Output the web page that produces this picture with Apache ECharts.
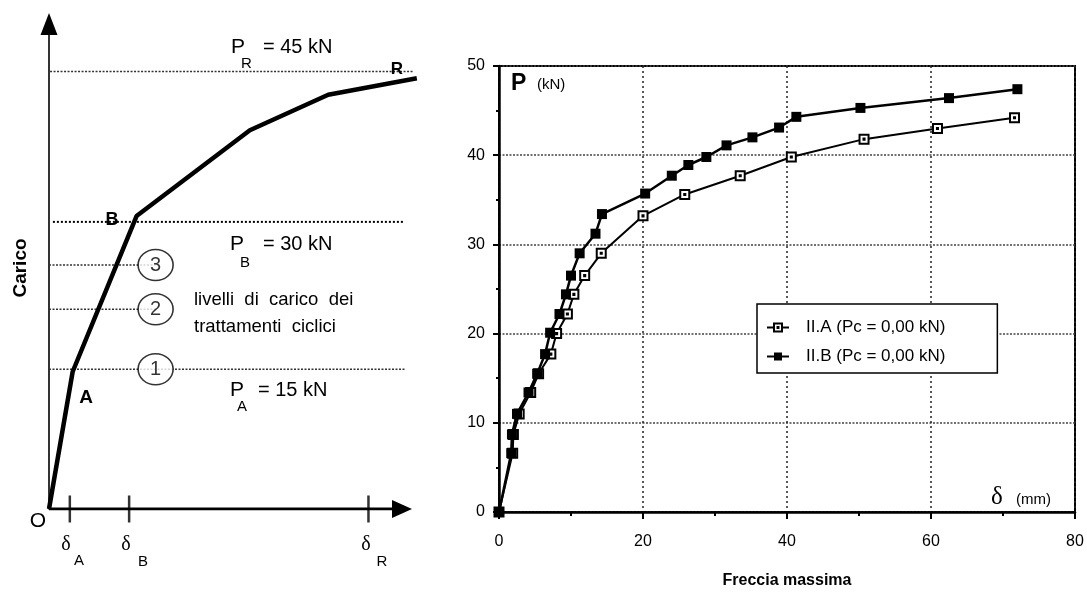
<!DOCTYPE html>
<html><head><meta charset="utf-8">
<script src="https://cdn.jsdelivr.net/npm/echarts@6/dist/echarts.min.js"></script>
<style>html,body{margin:0;padding:0;background:#fff}#c{width:1087px;height:601px}</style>
</head><body><div id="c"></div>
<script>
// ---------- Right chart: measured data ----------
const seriesAName = 'II.A (Pc = 0,00 kN)';
const seriesBName = 'II.B (Pc = 0,00 kN)';
const deltaA = [0, 1.9, 2.0, 2.8, 4.4, 5.5, 7.2, 8.0, 9.5, 10.4, 11.9, 14.2, 20.0, 25.8, 33.5, 40.6, 50.7, 60.9, 71.6];
const loadA  = [0, 6.6, 8.7, 11.0, 13.4, 15.5, 17.7, 20.0, 22.2, 24.4, 26.5, 29.0, 33.2, 35.6, 37.7, 39.8, 41.8, 43.0, 44.2];
const deltaB = [0, 1.7, 1.8, 2.5, 4.1, 5.3, 6.4, 7.1, 8.4, 9.3, 10.0, 11.2, 13.4, 14.3, 20.3, 24.0, 26.3, 28.8, 31.6, 35.2, 38.9, 41.3, 50.2, 62.5, 72.0];
const loadB  = [0, 6.6, 8.7, 11.0, 13.4, 15.5, 17.7, 20.1, 22.2, 24.4, 26.5, 29.0, 31.2, 33.4, 35.7, 37.7, 38.9, 39.8, 41.1, 42.0, 43.1, 44.3, 45.3, 46.4, 47.4];
const xTickLabels = ['0', '20', '40', '60', '80'];
const yTickLabels = ['0', '10', '20', '30', '40', '50'];

// ---------- Left schematic (schematic drawing units) ----------
const schemDelta = [0, 6.7, 24.8, 56.9, 79.1, 104.2];
const schemLoad  = [0, 28.3, 60.4, 78.1, 85.4, 88.8];
const levelNames = ['1', '2', '3'];
const levelLoad  = [28.8, 41.2, 50.3];
const levelMarkerDelta = 30.2;
const levelLineEnd = [100.8, 30.2, 30.2];
const deltaTicks = [5.9, 22.7, 90.5];
const deltaAxisEnd = 100;
const loadPB = 59.2, loadPR = 90.2;
const lineP_B = [[1.1, loadPB], [100.8, loadPB]];
const lineP_R = [[0.3, loadPR], [103.1, loadPR]];

const SANS = '"Liberation Sans", Arial, Helvetica, sans-serif';
const SERIF = '"Liberation Serif", "DejaVu Serif", serif';

function zip(a, b) { return a.map((v, i) => [v, b[i]]); }

const openSquare = 'path://M0,0L10,0L10,10L0,10Z M4.4,4.4L5.6,4.4L5.6,5.6L4.4,5.6Z';

function txt(text, x, y, font, opts) {
  opts = opts || {};
  return {
    type: 'text', x: x, y: y, rotation: opts.rotation || 0, z: 100,
    style: {
      text: text, font: font, fill: '#000',
      textAlign: opts.align || 'left', align: opts.align || 'left',
      textVerticalAlign: 'middle', verticalAlign: 'middle'
    }
  };
}

const levelSeries = levelLoad.map((ld, i) => ({
  type: 'line', xAxisIndex: 0, yAxisIndex: 0, symbol: 'none', silent: true, clip: false,
  lineStyle: { color: '#333', width: 1.5, type: [2, 1.5] },
  data: [[0, ld], [levelLineEnd[i], ld]]
}));

const option = {
  backgroundColor: '#fff',
  animation: false,
  textStyle: { fontFamily: SANS },
  grid: [
    { left: 49, top: 24, width: 388.3, height: 485, outerBoundsMode: 'none' },
    { left: 499, right: 12, top: 66, bottom: 89, show: true, borderColor: '#000', borderWidth: 2, outerBoundsMode: 'none' }
  ],
  xAxis: [
    { gridIndex: 0, type: 'value', min: 0, max: 110,
      axisLine: { show: false },
      axisTick: { show: false }, axisLabel: { show: false }, splitLine: { show: false } },
    { gridIndex: 1, type: 'value', min: 0, max: 80, interval: 20,
      axisLine: { show: true, onZero: false, lineStyle: { color: '#000', width: 2.5 } },
      axisTick: { show: true, length: 7, lineStyle: { color: '#000', width: 2 } },
      minorTick: { show: true, splitNumber: 2, length: 4, lineStyle: { color: '#000', width: 2 } },
      axisLabel: { color: '#000', fontSize: 16, fontFamily: SANS, margin: 22,
        formatter: (v) => xTickLabels[xTickLabels.indexOf(String(v))] },
      splitLine: { show: true, lineStyle: { color: '#222', width: 1.5, type: [2, 3] } },
      name: 'Freccia massima', nameLocation: 'middle', nameGap: 61,
      nameTextStyle: { color: '#000', fontSize: 16, fontWeight: 'bold', fontFamily: SANS } }
  ],
  yAxis: [
    { gridIndex: 0, type: 'value', min: 0, max: 100,
      axisLine: { show: true, onZero: false, symbol: ['none', 'triangle'], symbolSize: [17, 22], lineStyle: { color: '#000', width: 1.6 } },
      axisTick: { show: false }, axisLabel: { show: false }, splitLine: { show: false } },
    { gridIndex: 1, type: 'value', min: 0, max: 50, interval: 10,
      axisLine: { show: true, onZero: false, lineStyle: { color: '#000', width: 2.5 } },
      axisTick: { show: true, length: 6, lineStyle: { color: '#000', width: 2 } },
      minorTick: { show: true, splitNumber: 2, length: 3, lineStyle: { color: '#000', width: 2 } },
      axisLabel: { color: '#000', fontSize: 16, fontFamily: SANS, margin: 14,
        formatter: (v) => yTickLabels[yTickLabels.indexOf(String(v))] },
      splitLine: { show: true, lineStyle: { color: '#444', width: 1.5, type: [2, 1.5] } } }
  ],
  legend: {
    data: [seriesAName, seriesBName],
    orient: 'vertical', left: 757, top: 304,
    padding: [15, 52, 8, 9], itemGap: 12,
    itemWidth: 22, itemHeight: 10,
    backgroundColor: '#fff', borderColor: '#000', borderWidth: 1.5, borderRadius: 0,
    textStyle: { color: '#000', fontSize: 17, fontFamily: SANS, padding: [0, 0, 0, 12] },
    selectedMode: false
  },
  series: [
    // left schematic horizontal axis with arrow
    { type: 'line', xAxisIndex: 0, yAxisIndex: 0, silent: true, z: 7,
      lineStyle: { color: '#000', width: 3 }, itemStyle: { color: '#000' },
      symbol: 'none',
      data: [[0, 0], { value: [deltaAxisEnd, 0], symbol: 'triangle', symbolSize: [18, 20], symbolRotate: -90 }] },
    // left schematic curve
    { type: 'line', xAxisIndex: 0, yAxisIndex: 0, symbol: 'none', clip: false, silent: true, z: 5,
      lineStyle: { color: '#000', width: 4.5 }, data: zip(schemDelta, schemLoad) },
    // reference lines
    { type: 'line', xAxisIndex: 0, yAxisIndex: 0, symbol: 'none', clip: false, silent: true,
      lineStyle: { color: '#333', width: 1.5, type: [2, 1.5] }, data: lineP_R },
    { type: 'line', xAxisIndex: 0, yAxisIndex: 0, symbol: 'none', clip: false, silent: true,
      lineStyle: { color: '#000', width: 2, type: [2, 2] }, data: lineP_B },
    ...levelSeries,
    // level circles
    { type: 'scatter', xAxisIndex: 0, yAxisIndex: 0, symbol: 'circle', symbolSize: [35, 31], z: 6, silent: true,
      itemStyle: { color: '#fff', borderColor: '#000', borderWidth: 1.5 },
      label: { show: true, position: 'inside', color: '#000', fontSize: 20, fontFamily: SANS,
        formatter: (p) => levelNames[p.dataIndex] },
      data: levelLoad.map(ld => [levelMarkerDelta, ld]) },
    // delta ticks
    { type: 'scatter', xAxisIndex: 0, yAxisIndex: 0, symbol: 'rect', symbolSize: [2.5, 27], silent: true, z: 8,
      itemStyle: { color: '#000' }, data: deltaTicks.map(d => [d, 0]) },
    // right chart series
    { name: seriesAName, type: 'line', xAxisIndex: 1, yAxisIndex: 1, z: 4,
      symbol: openSquare, symbolSize: 9, showAllSymbol: true,
      lineStyle: { color: '#000', width: 2 },
      itemStyle: { color: '#fff', borderColor: '#000', borderWidth: 2 },
      data: zip(deltaA, loadA) },
    { name: seriesBName, type: 'line', xAxisIndex: 1, yAxisIndex: 1, z: 5,
      symbol: 'rect', symbolSize: 10, showAllSymbol: true,
      lineStyle: { color: '#000', width: 2.5 },
      itemStyle: { color: '#000', borderColor: '#000', borderWidth: 0 },
      data: zip(deltaB, loadB) }
  ],
  graphic: [
    txt('P', 231, 47, '21px ' + SANS),
    txt('R', 241, 64, '15px ' + SANS),
    txt('= 45 kN', 263, 47, '20px ' + SANS),
    txt('R', 397, 69, 'bold 17px ' + SANS, { align: 'center' }),
    txt('B', 112, 220, 'bold 18px ' + SANS, { align: 'center' }),
    txt('P', 230, 244, '21px ' + SANS),
    txt('B', 240, 263, '15px ' + SANS),
    txt('= 30 kN', 263, 244, '20px ' + SANS),
    txt('livelli  di  carico  dei', 194, 300, '18.5px ' + SANS),
    txt('trattamenti  ciclici', 194, 327, '18.5px ' + SANS),
    txt('P', 230, 390, '21px ' + SANS),
    txt('A', 237, 407, '15px ' + SANS),
    txt('= 15 kN', 258, 390, '20px ' + SANS),
    txt('A', 86, 398, 'bold 19px ' + SANS, { align: 'center' }),
    txt('O', 38, 521, '21px ' + SANS, { align: 'center' }),
    txt('δ', 66, 545, '20px ' + SERIF, { align: 'center' }),
    txt('A', 79, 561, '15px ' + SANS, { align: 'center' }),
    txt('δ', 126, 545, '20px ' + SERIF, { align: 'center' }),
    txt('B', 143, 562, '15px ' + SANS, { align: 'center' }),
    txt('δ', 366, 545, '20px ' + SERIF, { align: 'center' }),
    txt('R', 382, 562, '15px ' + SANS, { align: 'center' }),
    txt('Carico', 21, 268, 'bold 19px ' + SANS, { align: 'center', rotation: Math.PI / 2 }),
    txt('P', 511, 84, 'bold 23px ' + SANS),
    txt('(kN)', 537, 85, '15px ' + SANS),
    txt('δ', 997, 497, '25px ' + SERIF, { align: 'center' }),
    txt('(mm)', 1016, 500, '15px ' + SANS)
  ]
};

const chart = echarts.init(document.getElementById('c'), null, { renderer: 'canvas' });
chart.setOption(option);
</script>
</body></html>
